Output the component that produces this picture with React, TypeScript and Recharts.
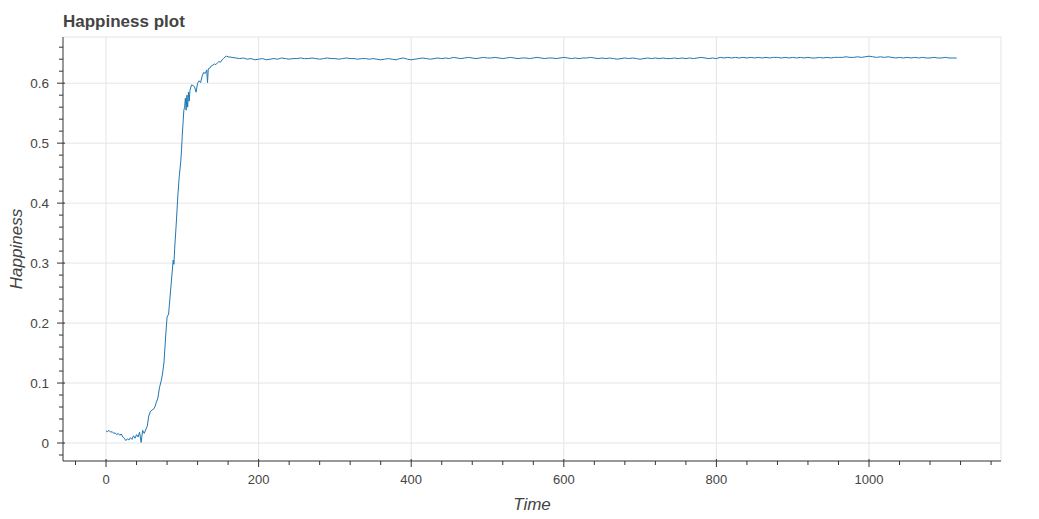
import { LineChart, Line, XAxis, YAxis, CartesianGrid, ReferenceLine, Label } from 'recharts';

// start of the run, read at a finer step while happiness climbs
const rampTime = [
  0, 2, 4, 6, 8, 10, 12, 14, 16, 18, 20, 22, 24, 26, 28, 30, 32, 34, 36, 38, 40, 42, 44, 46, 48,
  50, 52, 54, 56, 58, 60, 62, 64, 66, 68, 70, 72, 74, 76, 78, 80, 82, 84, 86, 88, 89, 90, 92, 94,
  96, 98, 99, 100, 101, 102, 103, 104, 105, 106, 107, 108, 109, 110, 112, 114, 116, 118, 120, 122,
  124, 126, 128, 130, 132, 133, 134, 136, 138, 140, 142, 144, 146, 148, 150, 152, 154, 156, 158, 160,
];
const rampHappiness = [
  0.020, 0.019, 0.021, 0.018, 0.019, 0.016, 0.017, 0.014, 0.016, 0.013, 0.015, 0.010, 0.008, 0.004,
  0.007, 0.005, 0.009, 0.006, 0.012, 0.008, 0.014, 0.010, 0.018, 0.001, 0.021, 0.016, 0.022, 0.028,
  0.045, 0.052, 0.055, 0.056, 0.060, 0.068, 0.075, 0.092, 0.102, 0.115, 0.135, 0.175, 0.210, 0.215,
  0.245, 0.275, 0.305, 0.298, 0.325, 0.365, 0.410, 0.445, 0.470, 0.490, 0.515, 0.535, 0.555, 0.560,
  0.575, 0.555, 0.580, 0.560, 0.585, 0.570, 0.588, 0.597, 0.596, 0.594, 0.585, 0.600, 0.604, 0.601,
  0.612, 0.618, 0.616, 0.622, 0.601, 0.624, 0.625, 0.629, 0.630, 0.632, 0.631, 0.634, 0.636, 0.635,
  0.639, 0.641, 0.644, 0.645, 0.644,
];

// plateau, every 5 time steps from t = 165
const plateauStart = 165;
const plateauStep = 5;
const plateauHappiness = [
  0.643, 0.642, 0.641, 0.642, 0.640, 0.641, 0.639, 0.640, 0.641, 0.639,
  0.640, 0.641, 0.640, 0.642, 0.641, 0.640, 0.641, 0.641, 0.642, 0.641,
  0.641, 0.642, 0.641, 0.640, 0.641, 0.642, 0.641, 0.641, 0.640, 0.641,
  0.642, 0.641, 0.641, 0.640, 0.641, 0.641, 0.640, 0.641, 0.640, 0.639,
  0.640, 0.641, 0.640, 0.639, 0.641, 0.642, 0.640, 0.639, 0.640, 0.641,
  0.642, 0.641, 0.640, 0.641, 0.642, 0.641, 0.642, 0.641, 0.643, 0.642,
  0.641, 0.642, 0.643, 0.642, 0.641, 0.642, 0.643, 0.642, 0.642, 0.643,
  0.642, 0.641, 0.642, 0.643, 0.642, 0.641, 0.642, 0.642, 0.641, 0.642,
  0.643, 0.642, 0.641, 0.642, 0.642, 0.641, 0.642, 0.643, 0.642, 0.641,
  0.642, 0.641, 0.642, 0.642, 0.643, 0.642, 0.641, 0.642, 0.641, 0.642,
  0.641, 0.640, 0.641, 0.642, 0.641, 0.642, 0.641, 0.640, 0.641, 0.642,
  0.641, 0.642, 0.641, 0.642, 0.641, 0.641, 0.642, 0.641, 0.642, 0.641,
  0.642, 0.641, 0.642, 0.643, 0.642, 0.641, 0.642, 0.641, 0.643, 0.642,
  0.643, 0.642, 0.643, 0.642, 0.643, 0.642, 0.643, 0.642, 0.643, 0.642,
  0.643, 0.642, 0.643, 0.643, 0.642, 0.643, 0.642, 0.643, 0.642, 0.643,
  0.642, 0.643, 0.642, 0.642, 0.643, 0.642, 0.643, 0.642, 0.643, 0.643,
  0.643, 0.644, 0.643, 0.643, 0.644, 0.643, 0.644, 0.645, 0.644, 0.643,
  0.644, 0.643, 0.644, 0.643, 0.642, 0.643, 0.642, 0.643, 0.642, 0.643,
  0.642, 0.643, 0.642, 0.642, 0.643, 0.642, 0.642, 0.643, 0.642, 0.642,
  0.642,
];

const xDomain = [-56.4, 1173];
const yDomain = [-0.03, 0.677];
const xMajor = [0, 200, 400, 600, 800, 1000];
const xTicks = [
  -40, 0, 40, 80, 120, 160, 200, 240, 280, 320, 360, 400, 440, 480, 520, 560, 600, 640, 680, 720,
  760, 800, 840, 880, 920, 960, 1000, 1040, 1080, 1120, 1160,
];
const yMajor = [0, 0.1, 0.2, 0.3, 0.4, 0.5, 0.6];
const yTicks = [
  -0.02, 0, 0.02, 0.04, 0.06, 0.08, 0.1, 0.12, 0.14, 0.16, 0.18, 0.2, 0.22, 0.24, 0.26, 0.28, 0.3,
  0.32, 0.34, 0.36, 0.38, 0.4, 0.42, 0.44, 0.46, 0.48, 0.5, 0.52, 0.54, 0.56, 0.58, 0.6, 0.62, 0.64,
  0.66,
];

const data = [
  ...rampTime.map((t, i) => ({ time: t, happiness: rampHappiness[i] })),
  ...plateauHappiness.map((v, i) => ({ time: plateauStart + i * plateauStep, happiness: v })),
];

const FONT = '"Liberation Sans", Arial, Helvetica, sans-serif';
const isMajor = (list: number[], v: number) => list.some(m => Math.abs(m - v) < 1e-9);

const XTick = ({ x, y, payload }: any) => {
  const major = isMajor(xMajor, payload.value);
  return (
    <g>
      <line x1={x} x2={x} y1={major ? y - 2 : y} y2={y + (major ? 6 : 4)} stroke="#333" />
      {major && (
        <text x={x} y={y + 23} textAnchor="middle" fill="#444" fontSize={13} fontFamily={FONT}>
          {payload.value}
        </text>
      )}
    </g>
  );
};

const YTick = ({ x, y, payload }: any) => {
  const major = isMajor(yMajor, payload.value);
  return (
    <g>
      <line x1={x - (major ? 6 : 4)} x2={major ? x + 2 : x} y1={y} y2={y} stroke="#333" />
      {major && (
        <text x={x - 14} y={y + 4.5} textAnchor="end" fill="#444" fontSize={13.5} fontFamily={FONT}>
          {Number(payload.value.toFixed(1))}
        </text>
      )}
    </g>
  );
};

export default function App() {
  return (
    <div style={{ position: 'absolute', left: 0, top: 0, width: 1039, height: 519, background: '#fff' }}>
      <div
        style={{
          position: 'absolute', left: 63, top: 12, fontFamily: FONT, fontWeight: 700,
          fontSize: 17, color: '#444', lineHeight: '20px',
        }}
      >
        Happiness plot
      </div>
      <LineChart width={1039} height={519} data={data} margin={{ top: 37, right: 38, left: 0, bottom: 0 }}>
        <CartesianGrid stroke="#e5e5e5" horizontalValues={yMajor} verticalValues={xMajor} />
        <ReferenceLine y={yDomain[1]} stroke="#e5e5e5" ifOverflow="extendDomain" />
        <ReferenceLine x={xDomain[1]} stroke="#e5e5e5" ifOverflow="extendDomain" />
        <XAxis
          dataKey="time"
          type="number"
          domain={xDomain}
          ticks={xTicks}
          interval={0}
          allowDataOverflow
          height={58}
          tickSize={0}
          tickMargin={0}
          tickLine={false}
          axisLine={{ stroke: '#333' }}
          tick={<XTick />}
        >
          <Label
            content={({ viewBox }: any) => (
              <text
                x={viewBox.x + viewBox.width / 2}
                y={viewBox.y + 49}
                textAnchor="middle"
                fontStyle="italic"
                fontSize={17}
                fill="#444"
                fontFamily={FONT}
              >
                Time
              </text>
            )}
          />
        </XAxis>
        <YAxis
          type="number"
          domain={yDomain}
          ticks={yTicks}
          interval={0}
          allowDataOverflow
          width={63}
          tickSize={0}
          tickMargin={0}
          tickLine={false}
          axisLine={{ stroke: '#333' }}
          tick={<YTick />}
        >
          <Label
            content={({ viewBox }: any) => {
              const cx = 22;
              const cy = viewBox.y + viewBox.height / 2;
              return (
                <text
                  x={cx}
                  y={cy}
                  transform={`rotate(-90 ${cx} ${cy})`}
                  textAnchor="middle"
                  fontStyle="italic"
                  fontSize={17}
                  fill="#444"
                  fontFamily={FONT}
                >
                  Happiness
                </text>
              );
            }}
          />
        </YAxis>
        <Line
          type="linear"
          dataKey="happiness"
          stroke="#1f77b4"
          strokeWidth={1}
          dot={false}
          isAnimationActive={false}
        />
      </LineChart>
    </div>
  );
}
